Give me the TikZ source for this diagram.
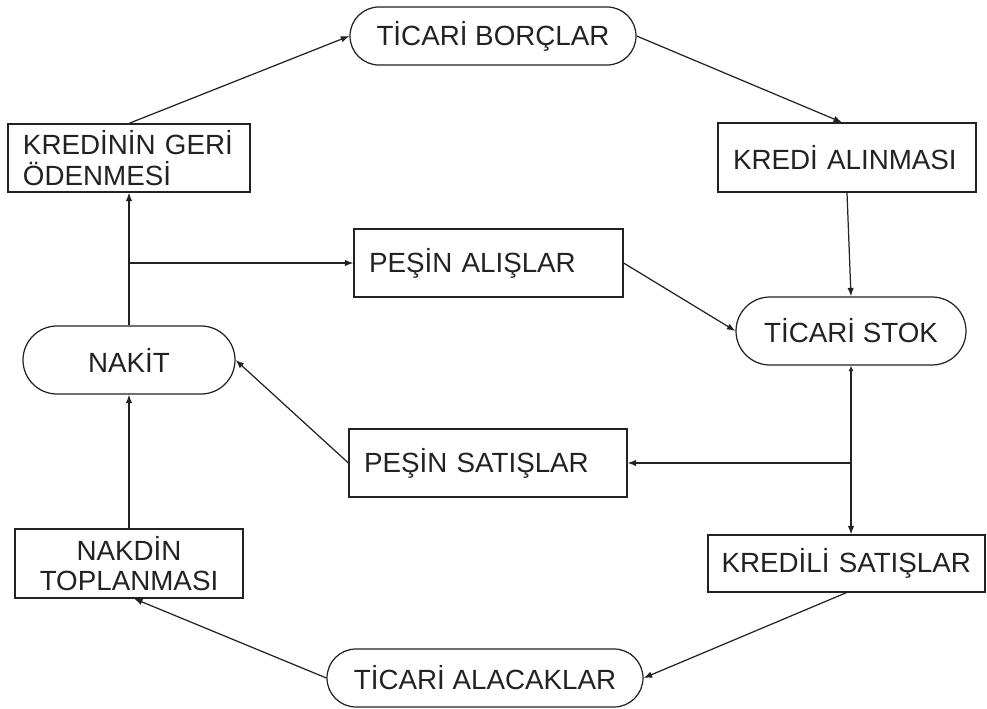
\documentclass[tikz,border=0pt]{standalone}
\usepackage{fontspec}
\setmainfont{Liberation Sans}
\usepackage{tikz}
\usetikzlibrary{arrows.meta,calc,positioning,shapes.misc}
\definecolor{lineblack}{HTML}{222222}

\begin{document}
\begin{tikzpicture}[
  font=\fontsize{15.8}{17.5}\selectfont,
  every node/.style={text=lineblack},
  box/.style={draw=lineblack, line width=0.7pt, rectangle, align=left,
              inner xsep=0.3cm, inner ysep=0pt, minimum height=1.36cm},
  pill/.style={draw=lineblack, line width=0.7pt, rounded rectangle,
               rounded rectangle arc length=180, inner sep=0pt,
               minimum height=1.36cm},
  flow/.style={-{Latex[length=1.7mm,width=1.3mm]}, line width=0.7pt, draw=lineblack},
  twoway/.style={{Latex[length=1.1mm,width=1.0mm]}-{Latex[length=1.7mm,width=1.3mm]},
                 line width=0.7pt, draw=lineblack},
]
  \useasboundingbox (0,0) rectangle (19.74,14.16);

  % Top half ----------------------------------------------------------------
  \node[pill, minimum width=5.72cm, minimum height=1.16cm] (borc) at (9.86,13.44) {TİCARİ BORÇLAR};
  \node[box, text width=4.24cm] (odeme) at (2.58,11.0) {KREDİNİN GERİ\\ÖDENMESİ};
  \node[box, text width=4.56cm, minimum height=1.38cm] (kredi) at (16.94,11.01) {KREDİ ALINMASI};
  \node[box, text width=4.78cm] (alis) at (9.77,8.90) {PEŞİN ALIŞLAR};
  \node[pill, minimum width=4.24cm] (nakit) at (2.58,6.96) {NAKİT};
  \node[pill, minimum width=4.6cm] (stok) at (17.02,7.54) {TİCARİ STOK};

  % Bottom half -------------------------------------------------------------
  \node[box, text width=4.96cm] (satis) at (9.76,4.90) {PEŞİN SATIŞLAR};
  \node[box, text width=5.0cm, inner xsep=0.27cm, minimum height=1.14cm] (kredisatis) at (16.93,2.89) {KREDİLİ SATIŞLAR};
  \node[box, text width=3.96cm, align=center, minimum height=1.38cm] (toplama) at (2.58,2.89) {NAKDİN\\TOPLANMASI};
  \node[pill, minimum width=6.32cm, minimum height=1.16cm] (alacak) at (9.70,0.60) {TİCARİ ALACAKLAR};

  % Branch points -----------------------------------------------------------
  \coordinate (nbranch) at (nakit.north |- alis.west);
  \coordinate (sbranch) at (stok.south |- satis.east);

  % Cycle -------------------------------------------------------------------
  \draw[flow] (odeme.north) -- (borc.west);
  \draw[flow] (borc.east) -- ($(kredi.north)+(-0.1,0)$);
  \draw[flow] (kredi.south) -- (stok.north);
  \draw[flow] (alis.east) -- (stok.west);
  \draw[flow] (nakit.north) -- (odeme.south);
  \draw[flow] (nbranch) -- (alis.west);
  \draw[twoway] (stok.south) -- (stok.south |- kredisatis.north);
  \draw[flow] (sbranch) -- (satis.east);
  \draw[flow] (satis.west) -- (nakit.east);
  \draw[flow] (toplama.north) -- (nakit.south);
  \draw[flow] (alacak.west) -- ($(toplama.south)+(0.1,0)$);
  \draw[flow] (kredisatis.south) -- (alacak.east);
\end{tikzpicture}
\end{document}
